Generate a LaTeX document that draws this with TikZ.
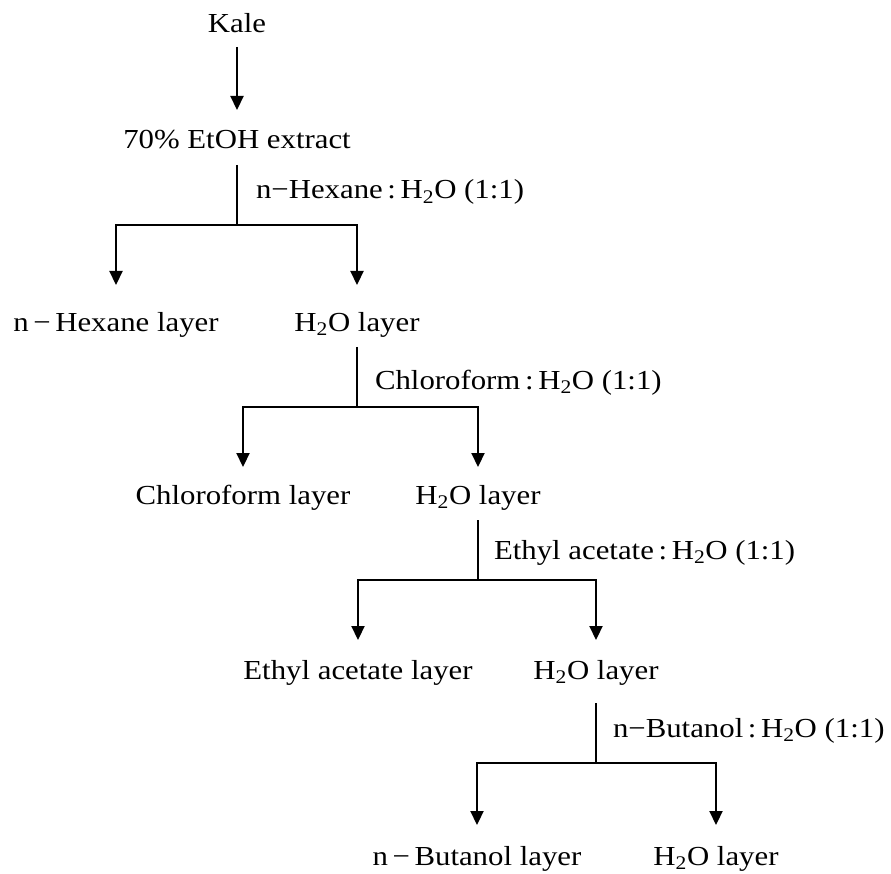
\documentclass[tikz,border=0pt]{standalone}
\usepackage{fontspec}
\setmainfont{Liberation Serif}[FakeStretch=1.12]
\usetikzlibrary{arrows.meta}
\newcommand{\cln}{\hspace{0.17em}:\hspace{0.17em}}
\begin{document}
\begin{tikzpicture}[x=1pt,y=-1pt,
  font=\fontsize{27.5}{33}\selectfont,
  txt/.style={inner sep=0pt, outer sep=0pt, text height=20pt, text depth=8pt, anchor=base},
  lbl/.style={inner sep=0pt, outer sep=0pt, anchor=base west},
  ln/.style={line width=2.2pt},
  arr/.style={line width=2.2pt, -{Triangle[length=14pt,width=13pt]}}]
\useasboundingbox (0,0) rectangle (891,874);
% nodes
\node[txt] (kale) at (237,33) {Kale};
\node[txt] (ext) at (237,149) {70\% EtOH extract};
\node[lbl] (l1) at (256,199) {n−Hexane\cln H\textsubscript{2}O (1:1)};
\node[txt] (hex) at (116,331) {n\,−\,Hexane layer};
\node[txt] (w1) at (357,331) {H\textsubscript{2}O layer};
\node[lbl] (l2) at (375,389) {Chloroform\cln H\textsubscript{2}O (1:1)};
\node[txt] (chl) at (243,504) {Chloroform layer};
\node[txt] (w2) at (478,504) {H\textsubscript{2}O layer};
\node[lbl] (l3) at (494,559) {Ethyl acetate\cln H\textsubscript{2}O (1:1)};
\node[txt] (eth) at (358,679) {Ethyl acetate layer};
\node[txt] (w3) at (596,679) {H\textsubscript{2}O layer};
\node[lbl] (l4) at (613,737) {n−Butanol\cln H\textsubscript{2}O (1:1)};
\node[txt] (but) at (477,865) {n\,−\,Butanol layer};
\node[txt] (w4) at (716,865) {H\textsubscript{2}O layer};
% branch points
\coordinate (b1) at (237,225);
\coordinate (b2) at (357,407);
\coordinate (b3) at (478,580);
\coordinate (b4) at (596,763);
% connectors
\draw[arr, shorten <=6pt, shorten >=19pt] (kale.south) -- (ext.north);
\draw[ln, shorten <=8pt] (ext.south) -- (b1);
\draw[arr, shorten >=26pt] (b1) -| (hex.north);
\draw[arr, shorten >=26pt] (b1) -| (w1.north);
\draw[ln, shorten <=8pt] (w1.south) -- (b2);
\draw[arr, shorten >=17pt] (b2) -| (chl.north);
\draw[arr, shorten >=17pt] (b2) -| (w2.north);
\draw[ln, shorten <=8pt] (w2.south) -- (b3);
\draw[arr, shorten >=19pt] (b3) -| (eth.north);
\draw[arr, shorten >=19pt] (b3) -| (w3.north);
\draw[ln, shorten <=16pt] (w3.south) -- (b4);
\draw[arr, shorten >=20pt] (b4) -| (but.north);
\draw[arr, shorten >=20pt] (b4) -| (w4.north);
\end{tikzpicture}
\end{document}
